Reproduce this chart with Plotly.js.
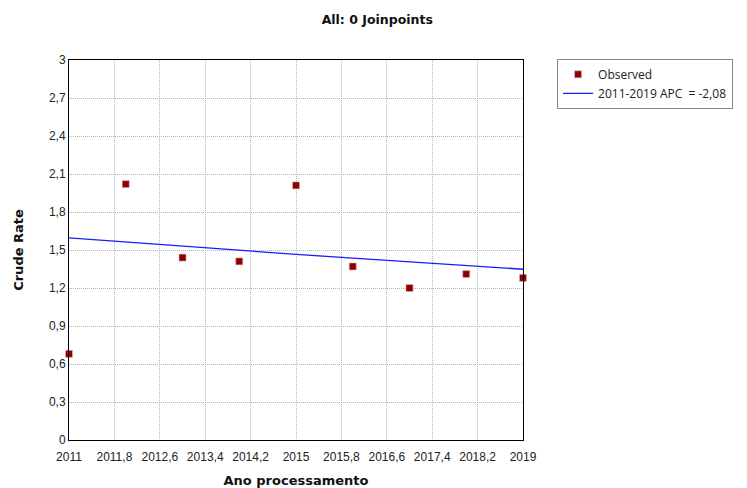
<!DOCTYPE html>
<html>
<head>
<meta charset="utf-8">
<script src="https://cdn.plot.ly/plotly-3.0.1.min.js"></script>
<style>html,body{margin:0;padding:0;background:#fff;}#chart{width:747px;height:488px;}</style>
</head>
<body>
<div id="chart"></div>
<script>
const years = [2011, 2012, 2013, 2014, 2015, 2016, 2017, 2018, 2019];
const observed = [0.68, 2.02, 1.44, 1.41, 2.01, 1.37, 1.20, 1.31, 1.28];
const fitted = [1.595, 1.562, 1.529, 1.497, 1.466, 1.436, 1.406, 1.376, 1.348];
const xTicks = [2011, 2011.8, 2012.6, 2013.4, 2014.2, 2015, 2015.8, 2016.6, 2017.4, 2018.2, 2019];
const yTicks = [0, 0.3, 0.6, 0.9, 1.2, 1.5, 1.8, 2.1, 2.4, 2.7, 3];
const observedName = 'Observed';
const fitName = '2011-2019 APC  = -2,08';

const traces = [
  {x: years, y: observed, type: 'scatter', mode: 'markers', name: observedName,
   marker: {symbol: 'square', size: 7, color: '#8B0000', line: {width: 0.6, color: '#e8b0b0'}}, cliponaxis: false},
  {x: years, y: fitted, type: 'scatter', mode: 'lines', name: fitName,
   line: {color: '#1a1aff', width: 1.3}}
];

const layout = {
  width: 747, height: 488,
  separators: ',.',
  margin: {l: 69, r: 224, t: 60, b: 48},
  paper_bgcolor: '#fff', plot_bgcolor: '#fff',
  font: {family: 'Liberation Sans, Arial, sans-serif', size: 12, color: '#222'},
  title: {text: 'All: 0 Joinpoints', x: 0.505, xanchor: 'center', y: 0.959, yanchor: 'middle',
          font: {family: 'DejaVu Sans', size: 12.5, color: '#111', weight: 'bold'}},
  xaxis: {
    range: [2011, 2019], tickvals: xTicks, ticktext: xTicks.map(v => String(v).replace('.', ',')),
    showgrid: true, gridcolor: '#b4b4b4', griddash: '1px,1px', gridwidth: 1,
    showline: true, linecolor: '#000', linewidth: 1, mirror: true,
    zeroline: false, ticks: '', ticklen: 0, ticklabelstandoff: 6,
    tickfont: {family: 'Liberation Sans, Arial', size: 12, color: '#222'},
    title: {text: 'Ano processamento', standoff: 14, font: {family: 'DejaVu Sans', size: 13, color: '#111', weight: 'bold'}}
  },
  yaxis: {
    range: [0, 3], tickvals: yTicks, ticktext: yTicks.map(v => String(v).replace('.', ',')),
    showgrid: true, gridcolor: '#b4b4b4', griddash: '1px,1px', gridwidth: 1,
    showline: true, linecolor: '#000', linewidth: 1, mirror: true,
    zeroline: false, ticks: '', ticklen: 0,
    tickfont: {family: 'Liberation Sans, Arial', size: 12, color: '#222'},
    title: {text: 'Crude Rate', standoff: 22, font: {family: 'DejaVu Sans', size: 13, color: '#111', weight: 'bold'}}
  },
  showlegend: true,
  legend: {x: 1.075, xanchor: 'left', y: 1.003, yanchor: 'top',
           bgcolor: '#fff', bordercolor: '#888', borderwidth: 1,
           font: {family: 'Open Sans, sans-serif', size: 12, color: '#222'},
           tracegroupgap: 0, itemwidth: 30, entrywidth: 200}
};

Plotly.newPlot('chart', traces, layout, {displayModeBar: false, staticPlot: true});
</script>
</body>
</html>
